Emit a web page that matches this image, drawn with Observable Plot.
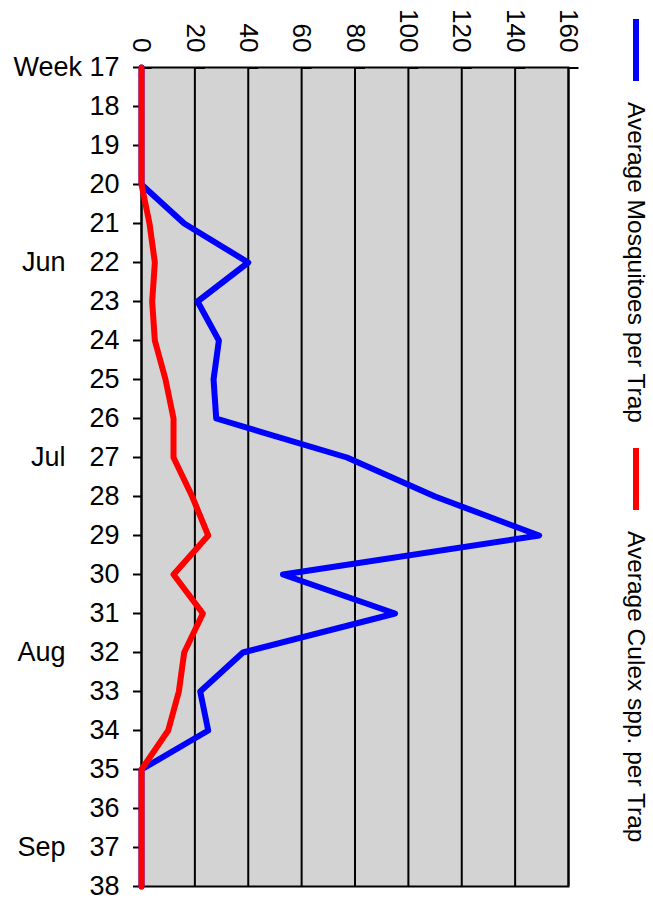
<!DOCTYPE html>
<html>
<head>
<meta charset="utf-8">
<script src="https://cdn.jsdelivr.net/npm/d3@7"></script>
<script src="https://cdn.jsdelivr.net/npm/@observablehq/plot@0.6"></script>
<style>
  body { margin: 0; background: #fff; font-family: "Liberation Sans", Arial, sans-serif; }
  #wrap { position: relative; width: 653px; height: 909px; }
  #legend { position: absolute; left: 620px; top: 19px; width: 32px; display: flex; flex-direction: column; align-items: center; font-size: 24.5px; color: #000; }
  #legend .sw { width: 6px; height: 62px; }
  #legend .lab { writing-mode: vertical-rl; white-space: nowrap; line-height: 1; }
</style>
</head>
<body>
<div id="wrap"></div>
<script>
const weeks = [17,18,19,20,21,22,23,24,25,26,27,28,29,30,31,32,33,34,35,36,37,38];
const mosquitoes = [0,0,0,0,16,40,21,29,27,28,77,110,149,53,95,38,22,25,0,0,0,0];
const culex = [0,0,0,0,3,5,4,5,9,12,12,19,25,12,23,16,14,10,0,0,0,0];
const months = ["Jun","Jul","Aug","Sep"];
const monthWeeks = [22,27,32,37];
const xTicks = [0,20,40,60,80,100,120,140,160];
const seriesNames = ["Average Mosquitoes per Trap","Average Culex spp. per Trap"];
const seriesColors = ["#0000ff","#ff0000"];

const table = weeks.map((w,i) => ({week: w, mosq: mosquitoes[i], culex: culex[i]}));
const monthData = months.map((m,i) => ({label: m, week: monthWeeks[i]}));

const chart = Plot.plot({
  width: 653,
  height: 909,
  marginLeft: 141,
  marginRight: 85,
  marginTop: 67,
  marginBottom: 23,
  style: {fontFamily: '"Liberation Sans", Arial, sans-serif', fontSize: "26px", color: "#000", background: "transparent", overflow: "visible"},
  x: {domain: [0,160]},
  y: {domain: [17,38], reverse: true},
  marks: [
    Plot.frame({fill: "#d3d3d3", stroke: null}),
    Plot.gridX(xTicks, {stroke: "#000", strokeOpacity: 1, strokeWidth: 2}),
    Plot.frame({stroke: "#000", strokeWidth: 2}),
    Plot.axisX({anchor: "top", ticks: xTicks, tickSize: 10, tickPadding: 5, rotate: 90, textAnchor: "end", lineAnchor: "middle", fontSize: 26, strokeWidth: 2, label: null}),
    Plot.axisY({ticks: weeks, tickSize: 8, tickPadding: 14, fontSize: 27, strokeWidth: 2, label: null,
      tickFormat: d => d === 17 ? "Week 17" : String(d)}),
    Plot.text(monthData, {y: "week", text: "label", frameAnchor: "left", dx: -76, textAnchor: "end", fontSize: 27, fill: "#000"}),
    Plot.line(table, {x: "mosq", y: "week", stroke: seriesColors[0], strokeWidth: 6, strokeLinejoin: "round"}),
    Plot.line(table, {x: "culex", y: "week", stroke: seriesColors[1], strokeWidth: 6, strokeLinejoin: "round"})
  ]
});
const wrap = document.getElementById("wrap");
wrap.appendChild(chart);

const legend = document.createElement("div");
legend.id = "legend";
seriesNames.forEach((name, i) => {
  const sw = document.createElement("div");
  sw.className = "sw";
  sw.style.background = seriesColors[i];
  sw.style.marginTop = i === 0 ? "0px" : "25px";
  const lab = document.createElement("div");
  lab.className = "lab";
  lab.textContent = name;
  lab.style.marginTop = "21px";
  legend.appendChild(sw);
  legend.appendChild(lab);
});
wrap.appendChild(legend);
</script>
</body>
</html>
